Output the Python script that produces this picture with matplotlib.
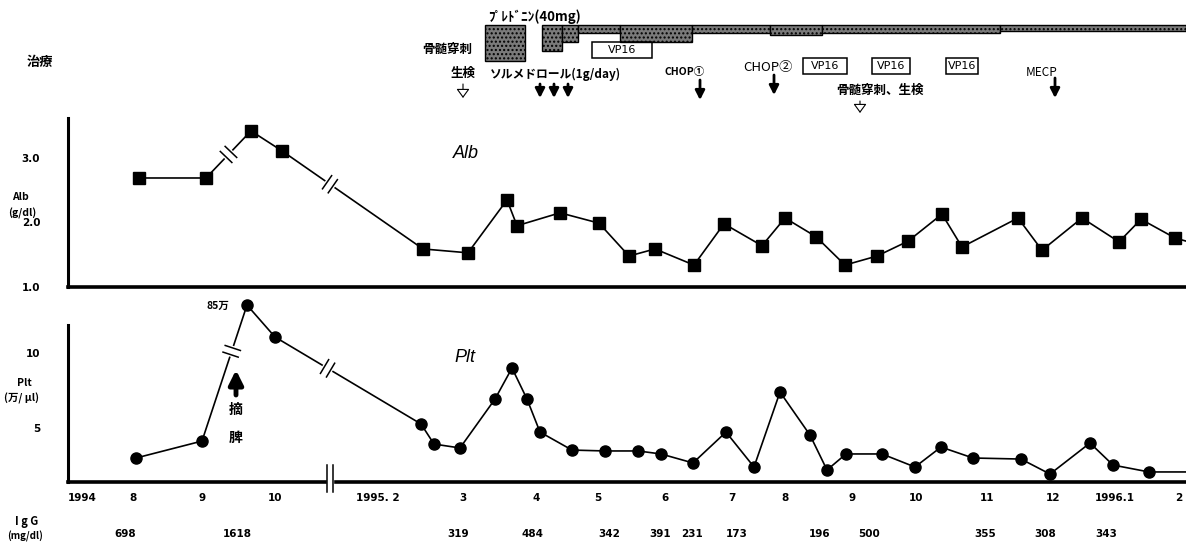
import numpy as np
import matplotlib
matplotlib.use('Agg')
import matplotlib.pyplot as plt
from matplotlib.transforms import IdentityTransform
from matplotlib.lines import Line2D

plt.rcParams['font.family'] = ['Noto Sans CJK JP', 'DejaVu Sans']

# positions along the (broken) time line, same units as the x axis
alb_t = [139, 206, 251, 282, 423, 468, 507, 517, 560, 599, 629, 655, 694, 724, 762,
         785, 816, 845, 877, 908, 942, 962, 1018, 1042, 1082, 1119, 1141, 1175, 1200]
alb = [2.69, 2.69, 3.42, 3.11, 1.59, 1.53, 2.35, 1.95, 2.15, 1.99, 1.48, 1.59, 1.34, 1.98, 1.64,
       2.07, 1.78, 1.34, 1.48, 1.71, 2.13, 1.62, 2.07, 1.57, 2.07, 1.70, 2.05, 1.76, 1.65]

plt_t = [136, 202, 247, 275, 421, 434, 460, 495, 512, 527, 540, 572, 605, 638, 661, 693,
         726, 754, 780, 810, 827, 846, 882, 915, 941, 973, 1021, 1050, 1090, 1113, 1149, 1200]
plt_v = [3.0, 4.13, 13.2, 11.07, 5.27, 3.93, 3.67, 6.93, 9.0, 6.93, 4.73, 3.53, 3.47, 3.47, 3.27, 2.67,
         4.73, 2.4, 7.4, 4.53, 2.2, 3.27, 3.27, 2.4, 3.73, 3.0, 2.93, 1.93, 4.0, 2.53, 2.07, 2.07]

month_t = [82, 133, 202, 275, 378, 463, 536, 598, 665, 732, 785, 852, 916, 987, 1053, 1115, 1179]
month_lbl = ['1994', '8', '9', '10', '1995. 2', '3', '4', '5', '6', '7', '8', '9', '10',
             '11', '12', '1996.1', '2']

igg_t = [125, 237, 458, 533, 609, 660, 692, 737, 820, 869, 985, 1045, 1106]
igg = [698, 1618, 319, 484, 342, 391, 231, 173, 196, 500, 355, 308, 343]

# prednisolone course (start, end, relative dose bar)
pred_start = [485, 542, 562, 578, 620, 692, 770, 822, 1000]
pred_end = [525, 562, 578, 620, 692, 770, 822, 1000, 1186]
pred_level = [36, 26, 17, 8, 17, 8, 10, 8, 6]

vp_start = [592, 803, 872, 946]
vp_end = [652, 847, 910, 978]

solu_t = [540, 554, 568]
chop_t = [700, 774]
mecp_t = [1055]
bm_t = [463, 860]

alb_breaks = [1, 3]   # segment index where the scale is broken
plt_breaks = [1, 3]

W, H = 1186, 545
fig = plt.figure(figsize=(W / 100, H / 100), dpi=100)
fig.patch.set_facecolor('white')

x0 = 68
def axes_px(top, bottom):
    return fig.add_axes([x0 / W, 1 - bottom / H, (W - x0) / W, (bottom - top) / H])

ax1 = axes_px(118, 287)
ax2 = axes_px(325, 482)

for ax in (ax1, ax2):
    ax.set_xlim(x0, W)
    ax.spines['top'].set_visible(False)
    ax.spines['right'].set_visible(False)
    ax.spines['left'].set_linewidth(2.2)
    ax.spines['bottom'].set_linewidth(2.6)
    ax.set_xticks([])
    ax.tick_params(axis='y', length=0, pad=20, labelsize=7.5)
    ax.set_facecolor('none')

ax1.set_ylim(1.0, 3.62)
ax1.set_yticks([1.0, 2.0, 3.0])
ax1.set_yticklabels(['1.0', '2.0', '3.0'], fontweight='bold', family='DejaVu Sans')
ax1.plot(alb_t, alb, color='black', lw=1.2, marker='s', ms=8.5, mfc='black', mec='black')

ax2.set_ylim(1.4, 11.87)
ax2.set_yticks([5, 10])
ax2.set_yticklabels(['5', '10'], fontweight='bold', family='DejaVu Sans')
ax2.plot(plt_t, plt_v, color='black', lw=1.2, marker='o', ms=8, mfc='black', mec='black',
         clip_on=False)


def break_marks(ax, xs, ys, idx, frac=0.5, half=8, gap=3.5):
    p0 = ax.transData.transform((xs[idx], ys[idx]))
    p1 = ax.transData.transform((xs[idx + 1], ys[idx + 1]))
    d = (p1 - p0) / np.hypot(*(p1 - p0))
    n = np.array([-d[1], d[0]])
    c = p0 + (p1 - p0) * frac
    a, b = c - d * gap, c + d * gap
    fig.add_artist(Line2D([a[0], b[0]], [a[1], b[1]], color='white', lw=3,
                          transform=IdentityTransform(), zorder=20))
    for m in (a, b):
        fig.add_artist(Line2D([m[0] - n[0] * half, m[0] + n[0] * half],
                              [m[1] - n[1] * half, m[1] + n[1] * half], color='black', lw=1.1,
                              transform=IdentityTransform(), zorder=21))

for i in alb_breaks:
    break_marks(ax1, alb_t, alb, i, frac=0.5 if i == 1 else 0.34)
for i in plt_breaks:
    break_marks(ax2, plt_t, plt_v, i, frac=0.66 if i == 1 else 0.36)

# overlay in picture pixels for the annotations
ov = fig.add_axes([0, 0, 1, 1], zorder=10)
ov.set_xlim(0, W)
ov.set_ylim(H, 0)
ov.axis('off')
ov.set_facecolor('none')

# broken time axis mark on the lower axis
ov.add_patch(plt.Rectangle((327, 478), 6, 8, color='white', zorder=5))
ov.plot([327, 327], [465, 492], color='black', lw=1.1, zorder=6)
ov.plot([333, 333], [465, 492], color='black', lw=1.1, zorder=6)

bold = dict(fontweight='bold', ha='center', va='center')

for t, s in zip(month_t, month_lbl):
    ov.text(t, 498, s, fontsize=7.5, family='DejaVu Sans', **bold)
for t, v in zip(igg_t, igg):
    ov.text(t, 534, str(v), fontsize=7.5, family='DejaVu Sans', **bold)
ov.text(27, 521, 'I g G', fontsize=8, **bold)
ov.text(25, 536, '(mg/dl)', fontsize=7, **bold)

ov.text(20, 197, 'Alb', fontsize=7.5, **bold)
ov.text(22, 213, '(g/dl)', fontsize=7.5, **bold)
ov.text(24, 383, 'Plt', fontsize=7.5, **bold)
ov.text(22, 398, '(万/ μl)', fontsize=7.5, **bold)

ov.text(466, 153, 'Alb', fontsize=13, style='italic', family='Liberation Sans', ha='center', va='center')
ov.text(465, 358, 'Plt', fontsize=13, style='italic', family='Liberation Sans', ha='center', va='center')
ov.text(218, 306, '85万', fontsize=7.5, **bold)

ov.annotate('', xy=(236, 370), xytext=(236, 395),
            arrowprops=dict(arrowstyle='-|>,head_width=0.35,head_length=0.7', lw=3.5,
                            color='black', shrinkA=0, shrinkB=0, mutation_scale=12))
ov.text(236, 410, '摘', fontsize=10, **bold)
ov.text(236, 438, '脾', fontsize=10, **bold)

# treatment panel
ov.text(40, 62, '治療', fontsize=9.5, **bold)
ov.bar(pred_start, pred_level, width=np.subtract(pred_end, pred_start), bottom=25,
       align='edge', color='#7a7a7a', edgecolor='black', lw=1, hatch='....')
ov.text(488, 17, 'ﾌﾟﾚﾄﾞﾆﾝ(40mg)', fontsize=9.5, ha='left', va='center', fontweight='bold')

for s, e in zip(vp_start, vp_end):
    yc = 50 if s < 700 else 66
    ov.add_patch(plt.Rectangle((s, yc - 8), e - s, 16, fill=False, ec='black', lw=1.1))
    ov.text((s + e) / 2, yc, 'VP16', fontsize=8, family='DejaVu Sans', ha='center', va='center')

ov.text(447, 49, '骨髄穿刺', fontsize=9, **bold)
ov.text(463, 73, '生検', fontsize=9, **bold)
ov.text(490, 74, 'ソルメドロール(1g/day)', fontsize=8.5, ha='left', va='center', fontweight='bold')
ov.text(685, 72, 'CHOP①', fontsize=7.5, **bold)
ov.text(768, 68, 'CHOP②', fontsize=9.5, ha='center', va='center')
ov.text(880, 90, '骨髄穿刺、生検', fontsize=9, **bold)
ov.text(1042, 72, 'MECP', fontsize=8.5, ha='center', va='center')

solid = dict(arrowstyle='-|>,head_width=0.28,head_length=0.55', lw=2, color='black',
             shrinkA=0, shrinkB=0, mutation_scale=10)
hollow = dict(arrowstyle='-|>,head_width=0.4,head_length=0.55', lw=0.8, fc='white', ec='black',
              shrinkA=0, shrinkB=0, mutation_scale=10)
for t in solu_t:
    ov.annotate('', xy=(t, 98), xytext=(t, 84), arrowprops=solid)
ov.annotate('', xy=(chop_t[0], 100), xytext=(chop_t[0], 80), arrowprops=solid)
ov.annotate('', xy=(chop_t[1], 95), xytext=(chop_t[1], 75), arrowprops=solid)
ov.annotate('', xy=(mecp_t[0], 98), xytext=(mecp_t[0], 78), arrowprops=solid)
ov.annotate('', xy=(bm_t[0], 98), xytext=(bm_t[0], 84), arrowprops=hollow)
ov.annotate('', xy=(bm_t[1], 113), xytext=(bm_t[1], 101), arrowprops=hollow)

fig.savefig('out.png', dpi=100)
